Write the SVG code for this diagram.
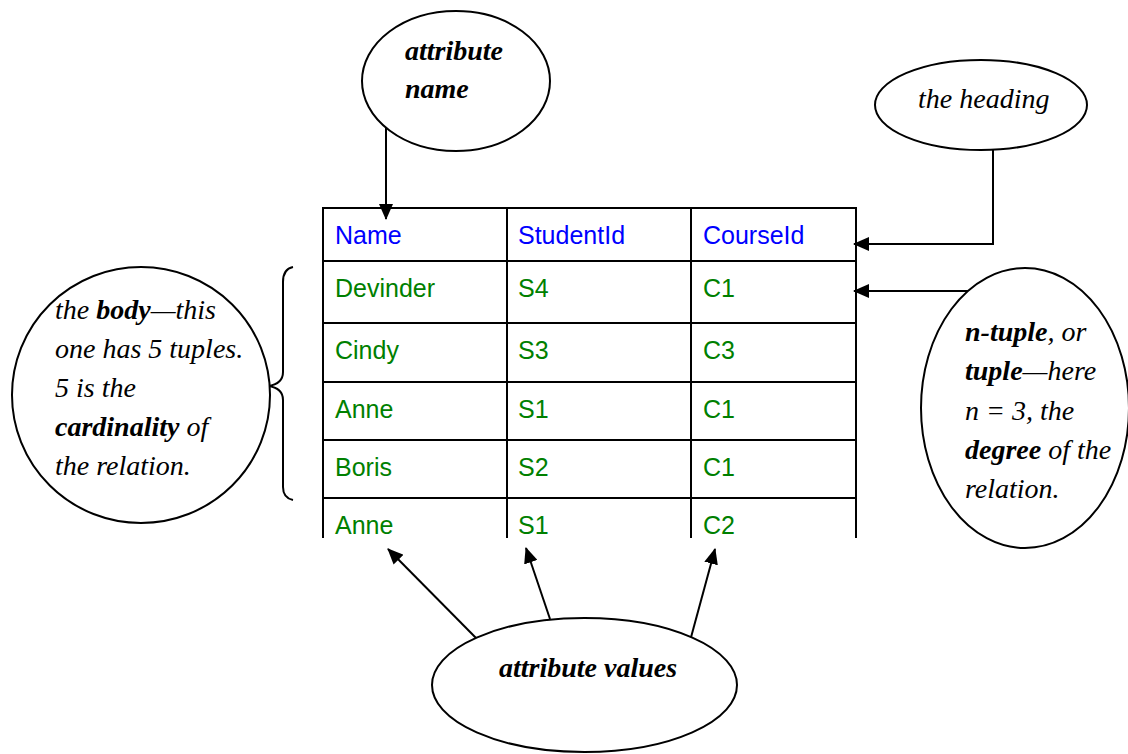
<svg xmlns="http://www.w3.org/2000/svg" width="1128" height="754" viewBox="0 0 1128 754">
<defs>
<marker id="arr" viewBox="0 0 16 14" refX="15" refY="7" markerWidth="16" markerHeight="14" markerUnits="userSpaceOnUse" orient="auto">
<path d="M0,0 L16,7 L0,14 Z" fill="#000"/>
</marker>
<style>
.ln{stroke:#000;stroke-width:2;fill:none}
.ov{stroke:#000;stroke-width:2;fill:#fff}
.hd{font-family:"Liberation Sans",Arial,sans-serif;font-size:25px;fill:#0000ff}
.bd{font-family:"Liberation Sans",Arial,sans-serif;font-size:25px;fill:#008000}
.tm{font-family:"Liberation Serif","Times New Roman",serif;font-size:28px;font-style:italic;fill:#000}
.b{font-weight:bold}
</style>
</defs>
<rect width="1128" height="754" fill="#fff"/>
<g id="table">
<path class="ln" d="M323,208 H856 M323,261 H856 M323,323 H856 M323,382 H856 M323,440 H856 M323,498 H856 M323,207 V538 M507,208 V538 M691,208 V538 M856,207 V538"/>
<text class="hd" x="335" y="244">Name</text>
<text class="hd" x="518" y="244">StudentId</text>
<text class="hd" x="703" y="244">CourseId</text>
<text class="bd" x="335" y="297">Devinder</text>
<text class="bd" x="518" y="297">S4</text>
<text class="bd" x="703" y="297">C1</text>
<text class="bd" x="335" y="359">Cindy</text>
<text class="bd" x="518" y="359">S3</text>
<text class="bd" x="703" y="359">C3</text>
<text class="bd" x="335" y="418">Anne</text>
<text class="bd" x="518" y="418">S1</text>
<text class="bd" x="703" y="418">C1</text>
<text class="bd" x="335" y="476">Boris</text>
<text class="bd" x="518" y="476">S2</text>
<text class="bd" x="703" y="476">C1</text>
<text class="bd" x="335" y="534">Anne</text>
<text class="bd" x="518" y="534">S1</text>
<text class="bd" x="703" y="534">C2</text>
</g>
<g id="connectors">
<path class="ln" d="M386,127 V219" marker-end="url(#arr)"/>
<path class="ln" d="M993,150 V244 H854" marker-end="url(#arr)"/>
<path class="ln" d="M968,291 H854" marker-end="url(#arr)"/>
<path class="ln" d="M479,641 L388,549" marker-end="url(#arr)"/>
<path class="ln" d="M550,619 L526,548" marker-end="url(#arr)"/>
<path class="ln" d="M690,641 L715,549" marker-end="url(#arr)"/>
<path class="ln" d="M293,267 Q283,269 283,282 V372 Q283,384 268,386 Q283,388 283,400 V487 Q283,498 293,500"/>
</g>
<g id="attribute-name">
<ellipse class="ov" cx="456" cy="81" rx="94" ry="70"/>
<text class="tm b" x="405" y="60">attribute</text>
<text class="tm b" x="405" y="98">name</text>
</g>
<g id="heading">
<ellipse class="ov" cx="981" cy="105" rx="106" ry="45"/>
<text class="tm" x="918" y="108">the heading</text>
</g>
<g id="body">
<ellipse class="ov" cx="141" cy="395" rx="129" ry="128"/>
<text class="tm" x="55" y="319">the <tspan class="b">body</tspan>—this</text>
<text class="tm" x="55" y="358">one has 5 tuples.</text>
<text class="tm" x="55" y="397">5 is the</text>
<text class="tm" x="55" y="436"><tspan class="b">cardinality</tspan> of</text>
<text class="tm" x="55" y="475">the relation.</text>
</g>
<g id="tuple">
<ellipse class="ov" cx="1025" cy="408" rx="104" ry="140"/>
<text class="tm" x="965" y="341"><tspan class="b">n-tuple</tspan>, or</text>
<text class="tm" x="965" y="380"><tspan class="b">tuple</tspan>—here</text>
<text class="tm" x="965" y="420">n = 3, the</text>
<text class="tm" x="965" y="459"><tspan class="b">degree</tspan> of the</text>
<text class="tm" x="965" y="498">relation.</text>
</g>
<g id="attribute-values">
<ellipse class="ov" cx="584.5" cy="685" rx="152.5" ry="67"/>
<text class="tm b" x="499" y="677">attribute values</text>
</g>
</svg>
